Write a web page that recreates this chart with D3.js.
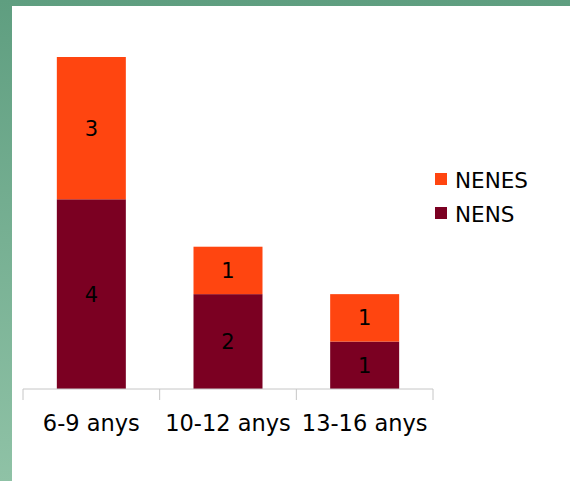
<!DOCTYPE html>
<html>
<head>
<meta charset="utf-8">
<script src="https://cdn.jsdelivr.net/npm/d3@7"></script>
<style>
  html, body { margin: 0; padding: 0; }
  body {
    width: 570px; height: 481px; overflow: hidden;
    background: linear-gradient(to bottom, #5f9e80, #8fc2a6);
  }
  #chart { position: absolute; left: 12px; top: 6px; width: 558px; height: 475px; background: #fff; }
  text { font-family: "DejaVu Sans", Verdana, sans-serif; }
</style>
</head>
<body>
<div id="chart"></div>
<script>
const categories = ["6-9 anys", "10-12 anys", "13-16 anys"];
const nens = [4, 2, 1];
const nenes = [3, 1, 1];
const seriesNames = ["NENS", "NENES"];
const colors = { NENS: "#7b0022", NENES: "#ff4510" };

const width = 558;
const height = 475;
const ox = 12, oy = 6; // panel offset inside the page

const rows = categories.map((c, i) => ({ cat: c, NENS: nens[i], NENES: nenes[i] }));
const stacked = d3.stack().keys(seriesNames)(rows);

const x = d3.scaleBand().domain(categories).range([23 - ox, 433 - ox]).paddingInner(0).paddingOuter(0);
const y = d3.scaleLinear().domain([0, 7]).range([389 - oy, 57 - oy]);
const barW = 69;

const svg = d3.select("#chart").append("svg")
  .attr("width", width).attr("height", height);

const layers = svg.append("g").selectAll("g")
  .data(stacked)
  .join("g")
  .attr("fill", (d) => colors[d.key]);

layers.selectAll("rect")
  .data((d) => d)
  .join("rect")
  .attr("x", (d) => x(d.data.cat) + x.bandwidth() / 2 - barW / 2)
  .attr("y", (d) => y(d[1]))
  .attr("width", barW)
  .attr("height", (d) => y(d[0]) - y(d[1]));

layers.selectAll("text")
  .data((d) => d)
  .join("text")
  .attr("x", (d) => x(d.data.cat) + x.bandwidth() / 2)
  .attr("y", (d) => (y(d[0]) + y(d[1])) / 2)
  .attr("dy", "0.36em")
  .attr("text-anchor", "middle")
  .attr("font-size", 21)
  .attr("fill", "#000")
  .text((d) => d[1] - d[0]);

// axis
const axis = svg.append("g")
  .attr("transform", `translate(0,${y(0)})`)
  .call(d3.axisBottom(x).tickSize(0).tickPadding(0));
axis.select(".domain").attr("stroke", "#c6c6c6").attr("d", `M${x.range()[0]},0H${x.range()[1]}`);
axis.selectAll(".tick text").remove();
axis.selectAll(".tick line").remove();

const edges = categories.map((c) => x(c)).concat([x.range()[1]]);
axis.selectAll(".edge")
  .data(edges)
  .join("line")
  .attr("class", "edge")
  .attr("x1", (d) => d).attr("x2", (d) => d)
  .attr("y1", 0).attr("y2", 11)
  .attr("stroke", "#c6c6c6");

axis.selectAll(".lbl")
  .data(categories)
  .join("text")
  .attr("class", "lbl")
  .attr("x", (d) => x(d) + x.bandwidth() / 2)
  .attr("y", 42)
  .attr("text-anchor", "middle")
  .attr("font-size", 22.5)
  .attr("fill", "#000")
  .text((d) => d);

// legend
const legend = svg.append("g").attr("transform", `translate(${435 - ox},${173 - oy})`);
const legendItems = legend.selectAll("g")
  .data(["NENES", "NENS"])
  .join("g")
  .attr("transform", (d, i) => `translate(0,${i * 34})`);
legendItems.append("rect")
  .attr("width", 12).attr("height", 12)
  .attr("fill", (d) => colors[d]);
legendItems.append("text")
  .attr("x", 20).attr("y", 15)
  .attr("font-size", 21.5)
  .attr("fill", "#000")
  .text((d) => d);
</script>
</body>
</html>
